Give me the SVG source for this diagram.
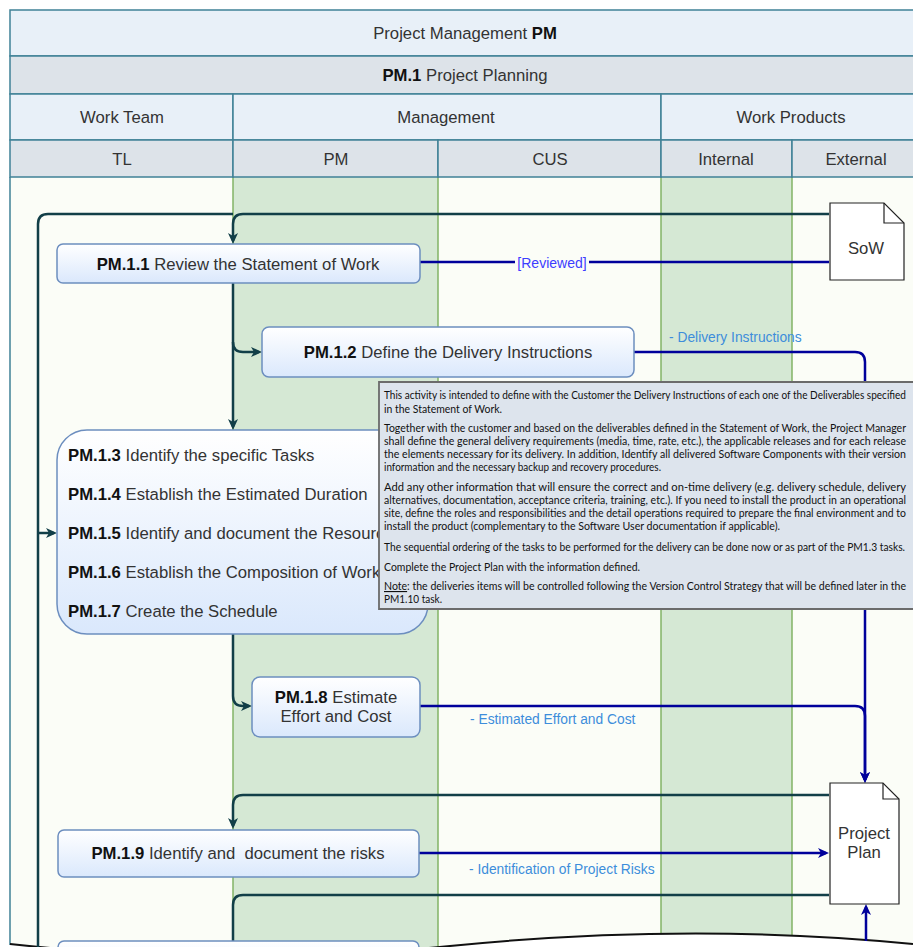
<svg xmlns="http://www.w3.org/2000/svg" width="913" height="947" viewBox="0 0 913 947">
<style>
.hd1{fill:#e8f0f8;stroke:#3f8196;stroke-width:1.5}
.hd2{fill:#dde3e9;stroke:#3f8196;stroke-width:1.5}
.t{font-family:"Liberation Sans",Arial,sans-serif;font-size:16.7px;fill:#333}
.b{font-weight:bold;fill:#111}
.lane{fill:#fbfdf7}
.glane{fill:#d5e8d4}
.gl{stroke:#82b366;stroke-width:1.5}
.node{fill:url(#ng);stroke:#6c8ebf;stroke-width:1.5}
.teal{fill:none;stroke:#123f48;stroke-width:2.5}
.blue{fill:none;stroke:#00009b;stroke-width:2.5}
.lbl{font-family:"Liberation Sans",Arial,sans-serif;font-size:13.8px;fill:#3d8ddb}
.doc{fill:#fff;stroke:#222;stroke-width:1.2}
.tip{font-family:Lato,"Liberation Sans",sans-serif;font-size:11.3px;fill:#111}
</style>
<defs>
<linearGradient id="ng" x1="0" y1="0" x2="0" y2="1">
<stop offset="0" stop-color="#ffffff"/>
<stop offset="1" stop-color="#dae8fc"/>
</linearGradient>
<marker id="at" markerUnits="userSpaceOnUse" markerWidth="12" markerHeight="12" refX="8" refY="5" orient="auto">
<path d="M0,0 L11,5 L0,10 L3,5 Z" fill="#123f48"/>
</marker>
<marker id="ab" markerUnits="userSpaceOnUse" markerWidth="12" markerHeight="12" refX="8" refY="5" orient="auto">
<path d="M0,0 L11,5 L0,10 L3,5 Z" fill="#00009b"/>
</marker>
</defs>
<rect x="0" y="0" width="913" height="947" fill="#ffffff"/>

<g id="body">
<rect class="lane" x="10" y="177" width="223" height="780"/>
<rect class="glane" x="233" y="177" width="205" height="780"/>
<rect class="lane" x="438" y="177" width="223" height="780"/>
<rect class="glane" x="661" y="177" width="131" height="780"/>
<rect class="lane" x="792" y="177" width="130" height="780"/>
<line class="gl" x1="233" y1="177" x2="233" y2="947"/>
<line class="gl" x1="438" y1="177" x2="438" y2="947"/>
<line class="gl" x1="661" y1="177" x2="661" y2="947"/>
<line class="gl" x1="792" y1="177" x2="792" y2="947"/>
<line x1="10" y1="177" x2="10" y2="945" stroke="#3f8196" stroke-width="1.5"/>
</g>

<g id="header">
<rect class="hd1" x="10" y="10" width="910" height="46"/>
<text class="t" x="465" y="39" text-anchor="middle">Project Management <tspan class="b">PM</tspan></text>
<rect class="hd2" x="10" y="56" width="910" height="38"/>
<text class="t" x="465" y="81" text-anchor="middle"><tspan class="b">PM.1</tspan> Project Planning</text>
<rect class="hd1" x="10" y="94" width="223" height="46"/>
<rect class="hd1" x="233" y="94" width="428" height="46"/>
<rect class="hd1" x="661" y="94" width="259" height="46"/>
<text class="t" x="122" y="123" text-anchor="middle">Work Team</text>
<text class="t" x="446" y="123" text-anchor="middle">Management</text>
<text class="t" x="791" y="123" text-anchor="middle">Work Products</text>
<rect class="hd2" x="10" y="140" width="223" height="37"/>
<rect class="hd2" x="233" y="140" width="205" height="37"/>
<rect class="hd2" x="438" y="140" width="223" height="37"/>
<rect class="hd2" x="661" y="140" width="131" height="37"/>
<rect class="hd2" x="792" y="140" width="128" height="37"/>
<text class="t" x="122" y="165" text-anchor="middle">TL</text>
<text class="t" x="336" y="165" text-anchor="middle">PM</text>
<text class="t" x="550" y="165" text-anchor="middle">CUS</text>
<text class="t" x="726" y="165" text-anchor="middle">Internal</text>
<text class="t" x="856" y="165" text-anchor="middle">External</text>
</g>

<g id="wave">
<path d="M10,944 Q230,968 450,946 Q690,922 913,944 L913,960 L10,960 Z" fill="#ffffff"/>
<path d="M10,944 Q230,968 450,946 Q690,922 913,944" fill="none" stroke="#111" stroke-width="2"/>
</g>

<g id="connectors">
<path class="teal" d="M829,214 H243 Q233,214 233,224 V241" marker-end="url(#at)"/>
<path class="teal" d="M233,214 H48 Q38,214 38,224 V947"/>
<path class="teal" d="M38,533 H54" marker-end="url(#at)"/>
<path class="teal" d="M233,283 V427" marker-end="url(#at)"/>
<path class="teal" d="M233,342 Q233,352 243,352 H259" marker-end="url(#at)"/>
<path class="teal" d="M233,634 V696 Q233,706 243,706 H249" marker-end="url(#at)"/>
<path class="teal" d="M829,795 H243 Q233,795 233,805 V826" marker-end="url(#at)"/>
<path class="teal" d="M829,895 H243 Q233,895 233,905 V941"/>
<path class="blue" d="M420,262 H829"/>
<path class="blue" d="M634,352 H855 Q865,352 865,362 V780" marker-end="url(#ab)"/>
<path class="blue" d="M420,706 H855 Q865,706 865,716 V780" marker-end="url(#ab)"/>
<path class="blue" d="M419,853 H826" marker-end="url(#ab)"/>
<path class="blue" d="M866,941 V907" marker-end="url(#ab)"/>
<rect x="515" y="254" width="74" height="17" fill="#fbfdf7"/>
<text x="552" y="268" text-anchor="middle" font-family="Liberation Sans, Arial, sans-serif" font-size="14" fill="#3d3dff">[Reviewed]</text>
<text class="lbl" x="669" y="342">- Delivery Instructions</text>
<text class="lbl" x="470" y="724">- Estimated Effort and Cost</text>
<text class="lbl" x="469" y="874">- Identification of Project Risks</text>
</g>

<g id="sow">
<path class="doc" d="M830,203 H884 L904,223 V280 H830 Z"/>
<path d="M884,203 V223 H904" fill="none" stroke="#222" stroke-width="1.2"/>
<text class="t" x="866" y="254" text-anchor="middle">SoW</text>
</g>

<g id="project-plan">
<path class="doc" d="M830,783 H883 L899,799 V904 H830 Z"/>
<path d="M883,783 V799 H899" fill="none" stroke="#222" stroke-width="1.2"/>
<text class="t" x="864" y="839" text-anchor="middle">Project</text>
<text class="t" x="864" y="858" text-anchor="middle">Plan</text>
</g>

<g id="pm-1-1">
<rect class="node" x="57" y="244" width="363" height="39" rx="6"/>
<text class="t" x="238" y="270" text-anchor="middle"><tspan class="b">PM.1.1</tspan> Review the Statement of Work</text>
</g>

<g id="pm-1-2">
<rect class="node" x="262" y="327" width="372" height="50" rx="7"/>
<text class="t" x="448" y="358" text-anchor="middle"><tspan class="b">PM.1.2</tspan> Define the Delivery Instructions</text>
</g>

<g id="pm-1-3-7">
<rect class="node" x="57" y="430" width="371" height="204" rx="30"/>
<text class="t" x="68" y="461"><tspan class="b">PM.1.3</tspan> Identify the specific Tasks</text>
<text class="t" x="68" y="500"><tspan class="b">PM.1.4</tspan> Establish the Estimated Duration</text>
<text class="t" x="68" y="539"><tspan class="b">PM.1.5</tspan> Identify and document the Resources</text>
<text class="t" x="68" y="578"><tspan class="b">PM.1.6</tspan> Establish the Composition of Work</text>
<text class="t" x="68" y="617"><tspan class="b">PM.1.7</tspan> Create the Schedule</text>
</g>

<g id="pm-1-8">
<rect class="node" x="252" y="677" width="168" height="60" rx="8"/>
<text class="t" x="336" y="703" text-anchor="middle"><tspan class="b">PM.1.8</tspan> Estimate</text>
<text class="t" x="336" y="722" text-anchor="middle">Effort and Cost</text>
</g>

<g id="pm-1-9">
<rect class="node" x="58" y="830" width="361" height="47" rx="6"/>
<text class="t" x="238" y="859" text-anchor="middle" style="white-space:pre"><tspan class="b">PM.1.9</tspan> Identify and  document the risks</text>
</g>

<g id="pm-1-10">
<rect class="node" x="58" y="941" width="361" height="47" rx="6"/>
</g>

<g id="tooltip">
<rect x="379" y="382" width="534" height="227" fill="#dde4ed"/>
<path d="M913,382 H379 V609 H913" fill="none" stroke="#6b6b6b" stroke-width="1.8"/>
<g class="tip">
<text x="384" y="399" textLength="522" lengthAdjust="spacingAndGlyphs">This activity is intended to define with the Customer the Delivery Instructions of each one of the Deliverables specified</text>
<text x="384" y="413" textLength="118" lengthAdjust="spacingAndGlyphs">in the Statement of Work.</text>
<text x="384" y="432" textLength="522" lengthAdjust="spacingAndGlyphs">Together with the customer and based on the deliverables defined in the Statement of Work, the Project Manager</text>
<text x="384" y="445" textLength="522" lengthAdjust="spacingAndGlyphs">shall define the general delivery requirements (media, time, rate, etc.), the applicable releases and for each release</text>
<text x="384" y="458" textLength="522" lengthAdjust="spacingAndGlyphs">the elements necessary for its delivery. In addition, Identify all delivered Software Components with their version</text>
<text x="384" y="471" textLength="277" lengthAdjust="spacingAndGlyphs">information and the necessary backup and recovery procedures.</text>
<text x="384" y="491" textLength="522" lengthAdjust="spacingAndGlyphs">Add any other information that will ensure the correct and on-time delivery (e.g. delivery schedule, delivery</text>
<text x="384" y="504" textLength="522" lengthAdjust="spacingAndGlyphs">alternatives, documentation, acceptance criteria, training, etc.). If you need to install the product in an operational</text>
<text x="384" y="517" textLength="522" lengthAdjust="spacingAndGlyphs">site, define the roles and responsibilities and the detail operations required to prepare the final environment and to</text>
<text x="384" y="530" textLength="396" lengthAdjust="spacingAndGlyphs">install the product (complementary to the Software User documentation if applicable).</text>
<text x="384" y="551" textLength="521" lengthAdjust="spacingAndGlyphs">The sequential ordering of the tasks to be performed for the delivery can be done now or as part of the PM1.3 tasks.</text>
<text x="384" y="571" textLength="256" lengthAdjust="spacingAndGlyphs">Complete the Project Plan with the information defined.</text>
<text x="384" y="590" textLength="522" lengthAdjust="spacingAndGlyphs"><tspan text-decoration="underline">Note</tspan>: the deliveries items will be controlled following the Version Control Strategy that will be defined later in the</text>
<text x="384" y="603" textLength="58" lengthAdjust="spacingAndGlyphs">PM1.10 task.</text>
</g>
</g>
</svg>
